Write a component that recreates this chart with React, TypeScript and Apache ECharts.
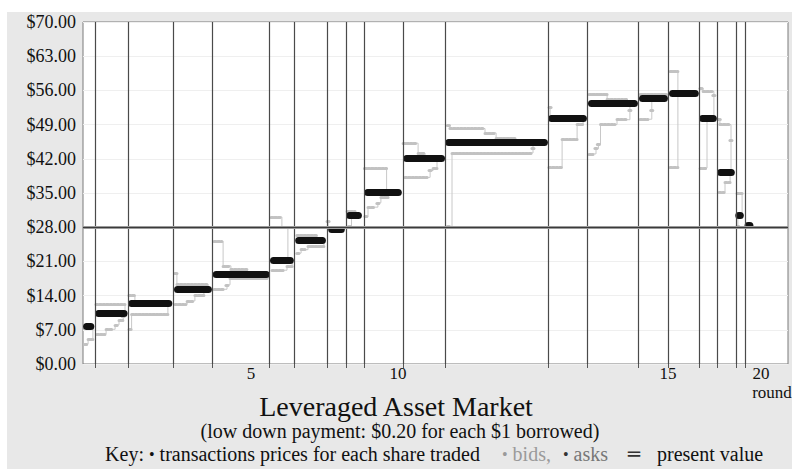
import React, { useEffect, useRef } from "react";
import * as echarts from "echarts";

// x axis is the event index of the session; vertical lines mark the end of each round
const roundEnds = [4, 15, 30, 43, 62.2, 70.4, 81.4, 87.6, 93.7, 106.6, 120.7, 155.1, 168.2, 185.2, 195.2, 205.3, 211.4, 217.6, 220.6];
const roundLabelPos = [56, 105, 195, 226];
const roundLabels = ["5", "10", "15", "20"];
const xAxisTitle = "round";

// transactions per round: first index, last index, price
const tradeStart = [1.2, 5.2, 16.2, 31.5, 44.4, 63.5, 71.9, 82.9, 88.9, 94.9, 107.9, 121.9, 156.2, 169.5, 186.5, 196.5, 206.5, 212.5, 218.6, 221.7];
const tradeEnd = [2.6, 13.7, 28.6, 41.8, 61.1, 69.1, 79.8, 86.1, 91.8, 105.1, 119.5, 153.8, 166.8, 183.8, 193.8, 204.1, 210.1, 216.1, 219.1, 222.3];
const tradePrice = [7.8, 10.4, 12.4, 15.3, 18.3, 21.2, 25.3, 27.5, 30.4, 35.2, 42.2, 45.3, 50.2, 53.3, 54.3, 55.4, 50.2, 39.3, 30.4, 28.3];

// bids per round: [from index, to index, price]
const bidSteps: number[][][] = [
  [[0.9, 0.9, 4.1], [1.7, 3.3, 5.1]],
  [[4.6, 7.3, 6.1], [7.7, 10, 7.1], [10.7, 11.7, 8.0], [12, 13.3, 9.0], [13.4, 13.4, 9.7]],
  [[15.7, 15.7, 7.1], [16.2, 28.3, 10.2]],
  [[30.7, 34.3, 12.2], [34.7, 36.7, 12.9], [37.3, 40.3, 14.1]],
  [[43.7, 46.7, 15.3], [48, 48, 16.2], [49, 61.7, 17.5]],
  [[63, 66.7, 19.2], [68, 69.7, 20.1]],
  [[71.3, 72.3, 22.7], [72.7, 74, 23.4], [75, 80.3, 24.2]],
  [],
  [[88.5, 89.5, 28.1]],
  [[94.3, 94.3, 30.2], [95, 97.3, 32.1], [98.3, 98.3, 33], [99.3, 101.7, 34.2]],
  [[107.3, 114.7, 38.2], [115.7, 115.7, 39.6], [116.7, 118, 40.1]],
  [[121.8, 121.8, 28.1], [123, 149.7, 43.2], [150, 150, 44.2]],
  [[155.3, 159.7, 40.2], [159.7, 164.7, 46], [164.7, 166.7, 49]],
  [[168.7, 170, 43], [171, 171, 44.1], [171.8, 171.8, 45], [172.5, 177.3, 49], [178, 181.3, 50], [182.3, 182.3, 52]],
  [[185.7, 188.3, 50.1], [189.6, 189.6, 52]],
  [[195.7, 198.3, 40.2]],
  [[205.7, 208, 40.1]],
  [[212, 213.7, 35.1], [214, 215.7, 37.2]],
  [[218.3, 218.3, 28.1]],
  [],
];

// asks per round: [from index, to index, price]
const askSteps: number[][][] = [
  [],
  [[4.3, 14, 12.2]],
  [[15.3, 17.3, 14.1]],
  [[31, 31, 18.6], [31.3, 41.7, 16.3]],
  [[43.7, 46.3, 25.1], [46.7, 49, 20.1], [49.3, 54.7, 19.3]],
  [[62.7, 66, 30.1], [66.3, 68.3, 27.9]],
  [[71.3, 77.9, 26.4]],
  [[81.7, 81.7, 29.2]],
  [[88, 90.7, 31.3]],
  [[93.8, 101.2, 40.1]],
  [[106.7, 111.3, 45.2], [111.7, 114, 43.2]],
  [[121.8, 121.8, 48.8], [122.3, 133.3, 48.2], [134, 137.3, 47.3], [137.7, 144, 46.3]],
  [[155.7, 155.7, 52.6]],
  [[168.7, 174.7, 55.3], [174.7, 181.3, 54.1]],
  [[185.7, 194.7, 55.3]],
  [[195.7, 198.3, 60]],
  [[206, 206, 56.5], [206.7, 209.7, 55.8], [210.3, 210.3, 55.1]],
  [[212.1, 212.1, 50], [212.3, 215.7, 49], [216, 216, 45.8]],
  [[218, 219.7, 35]],
  [],
];

const presentValue = 28;

const SERIF = "'Liberation Serif', 'Times New Roman', serif";

function stepPath(steps: number[][], endPrice: number): number[][] {
  const pts: number[][] = [];
  steps.forEach((s, i) => {
    if (i > 0) pts.push([s[0], steps[i - 1][2]]);
    pts.push([s[0], s[2]]);
    pts.push([s[1], s[2]]);
  });
  const last = steps[steps.length - 1];
  pts.push([last[1], endPrice]);
  return pts;
}

function buildOption() {
  const connectors: any[] = [];
  const beads: any[] = [];
  [bidSteps, askSteps].forEach((all) => {
    all.forEach((steps, r) => {
      if (!steps.length) return;
      connectors.push({ coords: stepPath(steps, tradePrice[r]) });
      steps.forEach((s) => {
        const pad = s[0] === s[1] ? 0.35 : 0;
        beads.push({ coords: [[s[0] - pad, s[2]], [s[1] + pad, s[2]]] });
      });
    });
  });
  const trades = tradePrice.map((p, i) => ({ coords: [[tradeStart[i], p], [tradeEnd[i], p]] }));

  return {
    animation: false,
    backgroundColor: "#e8e8e8",
    textStyle: { fontFamily: SERIF },
    grid: {
      left: 76,
      right: 4,
      top: 10,
      bottom: 105,
      show: true,
      outerBoundsMode: "none",
      containLabel: false,
      backgroundColor: "#ffffff",
      borderColor: "#7a7a7a",
      borderWidth: 1,
    },
    xAxis: {
      type: "value",
      min: 0,
      max: 235,
      axisLine: { show: false },
      splitLine: { show: false },
      axisTick: {
        show: true,
        customValues: roundEnds,
        length: 4,
        lineStyle: { color: "#555" },
      },
      axisLabel: {
        customValues: roundLabelPos,
        formatter: (v: number) => {
          const i = roundLabelPos.indexOf(v);
          return i >= 0 ? roundLabels[i] : "";
        },
        fontFamily: SERIF,
        fontSize: 17,
        lineHeight: 14,
        color: "#111",
        margin: 2,
      },
    },
    yAxis: {
      type: "value",
      min: 0,
      max: 70,
      interval: 7,
      axisLine: { show: false },
      axisTick: { show: false },
      axisLabel: {
        formatter: (v: number) => "$" + v.toFixed(2),
        fontFamily: SERIF,
        fontSize: 18,
        color: "#111",
        margin: 7,
      },
      splitLine: { lineStyle: { color: "#efefef", width: 1 } },
    },
    graphic: [
      {
        type: "text",
        x: 765,
        y: 380,
        style: {
          text: xAxisTitle,
          font: "17px " + SERIF,
          lineHeight: 13,
          fill: "#111",
          textAlign: "center",
          textVerticalAlign: "middle",
        },
      },
      {
        type: "text",
        x: 389,
        y: 394,
        style: { text: "Leveraged Asset Market", font: "28px " + SERIF, fill: "#111", textAlign: "center", textVerticalAlign: "middle" },
      },
      {
        type: "text",
        x: 393,
        y: 419,
        style: {
          text: "(low down payment: $0.20 for each $1 borrowed)",
          font: "20px " + SERIF,
          fill: "#111",
          textAlign: "center",
          textVerticalAlign: "middle",
        },
      },
      {
        type: "text",
        x: 473,
        y: 442,
        style: {
          text: "Key: {d|•} transactions prices for each share traded",
          font: "20px " + SERIF,
          fill: "#111",
          textAlign: "right",
          textVerticalAlign: "middle",
          rich: { d: { fontSize: 16, fill: "#111", fontFamily: SERIF } },
        },
      },
      {
        type: "text",
        x: 495,
        y: 442,
        style: {
          text: "{d|•} bids,",
          font: "20px " + SERIF,
          fill: "#9a9a9a",
          textAlign: "left",
          textVerticalAlign: "middle",
          rich: { d: { fontSize: 16, fill: "#9a9a9a", fontFamily: SERIF } },
        },
      },
      {
        type: "text",
        x: 556,
        y: 442,
        style: {
          text: "{d|•} asks",
          font: "20px " + SERIF,
          fill: "#777",
          textAlign: "left",
          textVerticalAlign: "middle",
          rich: { d: { fontSize: 16, fill: "#333", fontFamily: SERIF } },
        },
      },
      {
        type: "text",
        x: 621,
        y: 442,
        style: { text: "═", font: "20px 'DejaVu Sans'", fill: "#333", textAlign: "left", textVerticalAlign: "middle" },
      },
      {
        type: "text",
        x: 650,
        y: 442,
        style: { text: "present value", font: "20px " + SERIF, fill: "#111", textAlign: "left", textVerticalAlign: "middle" },
      },
    ],
    series: [
      {
        type: "lines",
        coordinateSystem: "cartesian2d",
        polyline: true,
        silent: true,
        data: connectors,
        lineStyle: { color: "#c8c8c8", width: 1, opacity: 1 },
        z: 2,
      },
      {
        type: "lines",
        coordinateSystem: "cartesian2d",
        polyline: false,
        silent: true,
        data: beads,
        lineStyle: { color: "#c2c2c2", width: 3, opacity: 1, type: [2, 1.5], cap: "round" },
        z: 3,
      },
      {
        type: "lines",
        coordinateSystem: "cartesian2d",
        polyline: false,
        silent: true,
        data: trades,
        lineStyle: { color: "#111111", width: 7, opacity: 1, cap: "round" },
        z: 4,
      },
      {
        type: "line",
        data: [],
        silent: true,
        z: 5,
        markLine: {
          silent: true,
          symbol: "none",
          label: { show: false },
          animation: false,
          data: [
            ...roundEnds.map((x) => ({ xAxis: x, lineStyle: { color: "#4a4a4a", width: 1.2, type: "solid" } })),
            { yAxis: presentValue, lineStyle: { color: "#9a9a9a", width: 3, type: "solid" } },
            { yAxis: presentValue, lineStyle: { color: "#3a3a3a", width: 1, type: "solid" } },
          ],
        },
      },
    ],
  };
}

export default function App() {
  const ref = useRef<HTMLDivElement>(null);
  useEffect(() => {
    if (!ref.current) return;
    const chart = echarts.init(ref.current, undefined, { renderer: "svg" });
    chart.setOption(buildOption() as any);
    return () => chart.dispose();
  }, []);
  return (
    <div style={{ position: "absolute", left: 0, top: 0, width: 792, height: 469, background: "#fff" }}>
      <div ref={ref} style={{ position: "absolute", left: 7, top: 12, width: 785, height: 457 }} />
    </div>
  );
}
